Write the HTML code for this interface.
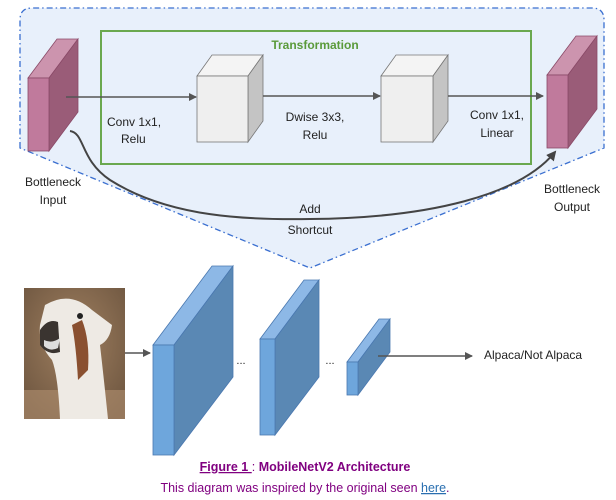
<!DOCTYPE html>
<html><head><meta charset="utf-8"><style>
html,body{margin:0;padding:0;background:#fff;width:616px;height:500px;overflow:hidden}
svg{display:block}
text{font-family:"Liberation Sans",sans-serif}
</style></head><body>
<svg width="616" height="500" viewBox="0 0 616 500" xmlns="http://www.w3.org/2000/svg">
<defs>
<marker id="ah" markerWidth="8" markerHeight="8" refX="7" refY="4" orient="auto" markerUnits="userSpaceOnUse"><path d="M0,0 L8,4 L0,8 Z" fill="#555"/></marker>
<marker id="ah2" markerWidth="10" markerHeight="10" refX="8" refY="5" orient="auto" markerUnits="userSpaceOnUse"><path d="M0,0 L10,5 L0,10 Z" fill="#444"/></marker>
<radialGradient id="bg" cx="50%" cy="40%" r="70%"><stop offset="0" stop-color="#a08060"/><stop offset="1" stop-color="#6e5640"/></radialGradient>
</defs>
<!-- dashed region -->
<path d="M20,148 L20,20 Q20,8 32,8 L592,8 Q604,8 604,20 L604,148 L310,268 Z" fill="#e8f0fb"/>
<path d="M20,148 L20,20 Q20,8 32,8 L592,8 Q604,8 604,20 L604,148 L310,268 Z" fill="none" stroke="#3a6fd0" stroke-width="1.3" stroke-dasharray="6,3,1.5,3"/>
<!-- green box -->
<rect x="101" y="31" width="430" height="133" fill="none" stroke="#6aa84f" stroke-width="2"/>
<text x="315" y="49" font-size="12" font-weight="bold" fill="#5a9a3a" text-anchor="middle">Transformation</text>
<!-- left pink -->
<polygon points="28,78 49,78 78,39 57,39" fill="#cc94ae" stroke="#8a4a68" stroke-width="0.8"/>
<polygon points="49,78 78,39 78,112 49,151" fill="#9a5c78" stroke="#8a4a68" stroke-width="0.8"/>
<rect x="28" y="78" width="21" height="73" fill="#c07a9c" stroke="#8a4a68" stroke-width="0.8"/>
<!-- right pink -->
<polygon points="547,75 568,75 597,36 576,36" fill="#cc94ae" stroke="#8a4a68" stroke-width="0.8"/>
<polygon points="568,75 597,36 597,109 568,148" fill="#9a5c78" stroke="#8a4a68" stroke-width="0.8"/>
<rect x="547" y="75" width="21" height="73" fill="#c07a9c" stroke="#8a4a68" stroke-width="0.8"/>
<!-- cube1 -->
<polygon points="197,76 248,76 263,55 212,55" fill="#f4f4f4" stroke="#777" stroke-width="0.8"/>
<polygon points="248,76 263,55 263,121 248,142" fill="#c4c4c4" stroke="#777" stroke-width="0.8"/>
<rect x="197" y="76" width="51" height="66" fill="#efefef" stroke="#777" stroke-width="0.8"/>
<!-- cube2 -->
<polygon points="381,76 433,76 448,55 396,55" fill="#f4f4f4" stroke="#777" stroke-width="0.8"/>
<polygon points="433,76 448,55 448,121 433,142" fill="#c4c4c4" stroke="#777" stroke-width="0.8"/>
<rect x="381" y="76" width="52" height="66" fill="#efefef" stroke="#777" stroke-width="0.8"/>
<!-- arrows -->
<line x1="66" y1="97" x2="196" y2="97" stroke="#555" stroke-width="1.5" marker-end="url(#ah)"/>
<line x1="263" y1="96" x2="380" y2="96" stroke="#555" stroke-width="1.5" marker-end="url(#ah)"/>
<line x1="448" y1="96" x2="543" y2="96" stroke="#555" stroke-width="1.5" marker-end="url(#ah)"/>
<!-- curve -->
<path d="M70,131 C85,133 80,160 110,180 C170,218 250,220 310,219 C430,218 520,195 555,152" fill="none" stroke="#444" stroke-width="2" marker-end="url(#ah2)"/>
<!-- labels -->
<g font-size="12" fill="#222">
<text x="107" y="126">Conv 1x1,</text>
<text x="121" y="143">Relu</text>
<text x="315" y="121" text-anchor="middle">Dwise 3x3,</text>
<text x="315" y="139" text-anchor="middle">Relu</text>
<text x="497" y="119" text-anchor="middle">Conv 1x1,</text>
<text x="497" y="137" text-anchor="middle">Linear</text>
<text x="53" y="186" text-anchor="middle">Bottleneck</text>
<text x="53" y="204" text-anchor="middle">Input</text>
<text x="572" y="193" text-anchor="middle">Bottleneck</text>
<text x="572" y="211" text-anchor="middle">Output</text>
<text x="310" y="213" text-anchor="middle">Add</text>
<text x="310" y="234" text-anchor="middle">Shortcut</text>
</g>
<!-- alpaca image -->
<rect x="24" y="288" width="101" height="131" fill="url(#bg)"/>
<rect x="24" y="390" width="101" height="29" fill="#b09070" opacity="0.6"/>
<path d="M45,305 Q70,290 92,310 L112,325 Q110,340 100,345 Q104,380 108,419 L60,419 Q58,375 52,360 Q38,345 40,325 Z" fill="#eeeae4"/>
<path d="M82,320 Q90,340 88,370 L78,380 Q76,345 72,325 Z" fill="#8a5030"/>
<path d="M40,330 Q48,318 58,322 L60,352 Q48,356 40,345 Z" fill="#3a3430"/>
<circle cx="80" cy="316" r="3" fill="#222"/>
<path d="M44,340 Q52,344 60,338 L58,348 Q50,352 44,346 Z" fill="#ddd"/>
<!-- bottom arrows and blocks -->
<line x1="125" y1="353" x2="150" y2="353" stroke="#555" stroke-width="1.5" marker-end="url(#ah)"/>
<polygon points="153,345 174,345 233,266 212,266" fill="#8db8e6" stroke="#4a78b0" stroke-width="0.8"/>
<polygon points="174,345 233,266 233,377 174,455" fill="#5a88b4" stroke="#4a78b0" stroke-width="0.8"/>
<rect x="153" y="345" width="21" height="110" fill="#6ea6dc" stroke="#4a78b0" stroke-width="0.8"/>
<polygon points="260,339 275,339 319,280 304,280" fill="#8db8e6" stroke="#4a78b0" stroke-width="0.8"/>
<polygon points="275,339 319,280 319,377 275,435" fill="#5a88b4" stroke="#4a78b0" stroke-width="0.8"/>
<rect x="260" y="339" width="15" height="96" fill="#6ea6dc" stroke="#4a78b0" stroke-width="0.8"/>
<polygon points="347,362 358,362 390,319 379,319" fill="#8db8e6" stroke="#4a78b0" stroke-width="0.8"/>
<polygon points="358,362 390,319 390,352 358,395" fill="#5a88b4" stroke="#4a78b0" stroke-width="0.8"/>
<rect x="347" y="362" width="11" height="33" fill="#6ea6dc" stroke="#4a78b0" stroke-width="0.8"/>
<text x="241" y="364" font-size="11" fill="#222" text-anchor="middle">...</text>
<text x="330" y="364" font-size="11" fill="#222" text-anchor="middle">...</text>
<line x1="378" y1="356" x2="472" y2="356" stroke="#555" stroke-width="1.5" marker-end="url(#ah)"/>
<text x="484" y="359" font-size="12" fill="#222">Alpaca/Not Alpaca</text>
<!-- caption -->
<text x="305" y="471" font-size="12.5" font-weight="bold" fill="#800080" text-anchor="middle"><tspan text-decoration="underline">Figure 1 </tspan><tspan font-weight="normal">: </tspan>MobileNetV2 Architecture</text>
<text x="305" y="492" font-size="12.5" fill="#800080" text-anchor="middle">This diagram was inspired by the original seen <tspan fill="#2a6fb0" text-decoration="underline">here</tspan>.</text>
</svg>
</body></html>
